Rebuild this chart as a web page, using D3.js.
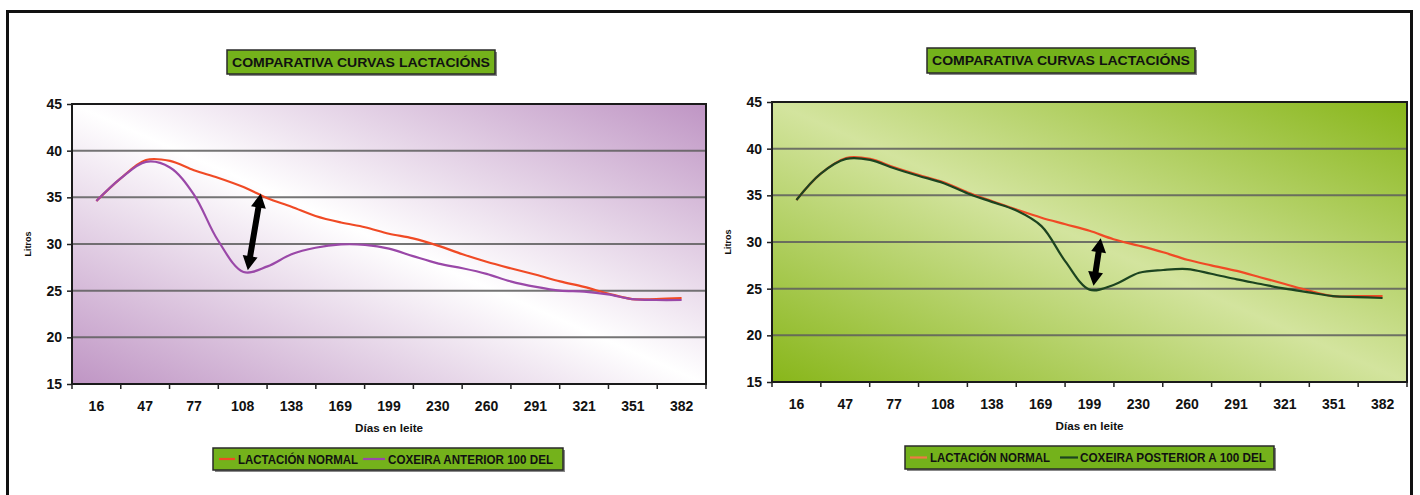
<!DOCTYPE html>
<html>
<head>
<meta charset="utf-8">
<script src="https://cdn.jsdelivr.net/npm/d3@7"></script>
<style>
  body{margin:0;background:#fff;}
  text{font-family:"Liberation Sans",Arial,sans-serif;font-weight:bold;fill:#111;}
</style>
</head>
<body>
<div id="chart"></div>
<script>
// categories shown on the axis (days in milk)
const tickDays = [16,47,77,108,138,169,199,230,260,291,321,351,382];
// sample days (every ~half month)
const days = [16,31,47,62,77,92,108,123,138,153,169,184,199,214,230,245,260,275,291,306,321,336,351,366,382];
const yTicks = [15,20,25,30,35,40,45];

const leftNormal   = [34.6,37.0,39.0,38.9,37.9,37.1,36.1,34.9,34.0,33.0,32.3,31.8,31.1,30.6,29.8,28.9,28.1,27.4,26.7,26.0,25.4,24.7,24.1,24.1,24.2];
const leftAnterior = [34.6,37.0,38.8,38.2,35.3,30.4,27.0,27.6,28.9,29.6,29.95,29.9,29.5,28.7,27.9,27.4,26.8,26.0,25.4,25.0,24.9,24.6,24.1,24.0,24.0];
const rightNormal    = [34.5,37.3,39.0,38.9,38.0,37.2,36.4,35.3,34.4,33.5,32.6,31.9,31.2,30.3,29.6,28.9,28.1,27.5,26.9,26.2,25.5,24.8,24.2,24.2,24.2];
const rightPosterior = [34.5,37.3,38.9,38.8,37.9,37.1,36.3,35.2,34.3,33.4,31.7,27.9,24.9,25.4,26.7,27.0,27.1,26.6,26.0,25.5,25.0,24.6,24.2,24.1,24.0];

// arrow annotations [day, litres] bottom -> top
const leftArrow  = [[110.7,27.2],[118.8,35.4]];
const rightArrow = [[201.5,25.3],[206.0,30.4]];

const titleText = "COMPARATIVA CURVAS LACTACIÓNS";

const svg = d3.select("#chart").append("svg")
              .attr("width",1420)
              .attr("height",495);

svg.append("rect").attr("width",1420).attr("height",495).attr("fill","#fff");

let defs = svg.append("defs");

function gradient(id, edge, mid){
  let g = defs.append("linearGradient").attr("id",id)
              .attr("x1",0).attr("y1",1).attr("x2",1).attr("y2",0);
  g.append("stop").attr("offset","0%").attr("stop-color",edge);
  g.append("stop").attr("offset","50%").attr("stop-color",mid);
  g.append("stop").attr("offset","100%").attr("stop-color",edge);
}
gradient("gPurple","#bf95c4","#ffffff");
gradient("gGreen","#88b61a","#d3e49e");

// outer frame
svg.append("rect")
   .attr("x",7.5).attr("y",11.5)
   .attr("width",1404).attr("height",520)
   .attr("fill","none").attr("stroke","#111").attr("stroke-width",3);

function greenBox(x,y,w,h){
  svg.append("rect").attr("x",x+2).attr("y",y+2).attr("width",w).attr("height",h)
     .attr("fill","#555").attr("opacity",0.7);
  svg.append("rect").attr("x",x).attr("y",y).attr("width",w).attr("height",h)
     .attr("fill","#74b21b").attr("stroke","#2a2a2a").attr("stroke-width",1.5);
}

function drawPanel(p){
  let x = d3.scaleBand().domain(tickDays).range([p.x0,p.x1]);
  let xd = d3.scaleLinear()
             .domain([tickDays[0],tickDays[tickDays.length-1]])
             .range([x(tickDays[0])+x.bandwidth()/2, x(tickDays[tickDays.length-1])+x.bandwidth()/2]);
  let y = d3.scaleLinear().domain([15,45]).range([p.y1,p.y0]);

  // title
  greenBox(p.title[0],p.title[1],p.title[2],p.title[3]);
  svg.append("text")
     .attr("x",p.title[0]+p.title[2]/2).attr("y",p.title[1]+16.5)
     .attr("text-anchor","middle")
     .style("font-size","12.5px")
     .attr("textLength",p.title[2]-10).attr("lengthAdjust","spacingAndGlyphs")
     .text(titleText);

  // plot background
  svg.append("rect")
     .attr("x",p.x0).attr("y",p.y0)
     .attr("width",p.x1-p.x0).attr("height",p.y1-p.y0)
     .attr("fill","url(#"+p.grad+")");

  // gridlines
  svg.append("g").selectAll("line").data(yTicks.slice(1,-1)).enter().append("line")
     .attr("x1",p.x0).attr("x2",p.x1)
     .attr("y1",d=>y(d)).attr("y2",d=>y(d))
     .attr("stroke","#5e5e5e").attr("stroke-width",2).attr("opacity",0.85);

  svg.append("rect")
     .attr("x",p.x0).attr("y",p.y0)
     .attr("width",p.x1-p.x0).attr("height",p.y1-p.y0)
     .attr("fill","none").attr("stroke","#1a1a1a").attr("stroke-width",2);

  // y axis
  let ya = svg.append("g").attr("transform","translate("+p.x0+",0)")
              .call(d3.axisLeft(y).tickValues(yTicks).tickSize(5).tickPadding(5));
  ya.select(".domain").remove();
  ya.selectAll("line").attr("stroke","#222").attr("stroke-width",1.5);
  ya.selectAll("text").style("font-size","14px").attr("fill","#111")
    .style("font-family","'Liberation Sans',Arial,sans-serif").style("font-weight","bold");

  // x axis: labels at band centres, ticks at band edges
  let xa = svg.append("g").attr("transform","translate(0,"+p.y1+")")
              .call(d3.axisBottom(x).tickSize(0).tickPadding(17));
  xa.select(".domain").remove();
  xa.selectAll("text").style("font-size","14px").attr("fill","#111")
    .style("font-family","'Liberation Sans',Arial,sans-serif").style("font-weight","bold");
  let edges = tickDays.map(d=>x(d)).concat([p.x1]);
  svg.append("g").selectAll("line").data(edges).enter().append("line")
     .attr("x1",d=>d).attr("x2",d=>d)
     .attr("y1",p.y1).attr("y2",p.y1+5)
     .attr("stroke","#222").attr("stroke-width",1.5);

  // axis titles
  svg.append("text")
     .attr("x",(p.x0+p.x1)/2).attr("y",p.y1+48)
     .attr("text-anchor","middle")
     .style("font-size","10.5px")
     .attr("textLength",68).attr("lengthAdjust","spacingAndGlyphs")
     .text("Días en leite");
  svg.append("text")
     .attr("transform","translate("+(p.x0-41)+","+((p.y0+p.y1)/2)+") rotate(-90)")
     .attr("text-anchor","middle")
     .style("font-size","9px")
     .text("Litros");

  // lines
  let line = d3.line()
               .x((d,i)=>xd(days[i]))
               .y(d=>y(d))
               .curve(d3.curveCatmullRom.alpha(0.5));
  p.series.forEach(s=>{
    svg.append("path")
       .datum(s.values)
       .attr("d",line)
       .attr("fill","none")
       .attr("stroke",s.color)
       .attr("stroke-width",2.2);
  });

  // double headed arrow
  let a = [xd(p.arrow[0][0]),y(p.arrow[0][1])];
  let b = [xd(p.arrow[1][0]),y(p.arrow[1][1])];
  let len = Math.hypot(b[0]-a[0],b[1]-a[1]);
  let u = [(b[0]-a[0])/len,(b[1]-a[1])/len], n = [-u[1],u[0]];
  let hl = 14, hw = 7.5, sw = 3;
  let pt = (o,k,m)=>[o[0]+u[0]*k+n[0]*m, o[1]+u[1]*k+n[1]*m];
  let poly = [b, pt(b,-hl,hw), pt(b,-hl,sw), pt(a,hl,sw), pt(a,hl,hw), a,
              pt(a,hl,-hw), pt(a,hl,-sw), pt(b,-hl,-sw), pt(b,-hl,-hw)];
  svg.append("path")
     .attr("d",d3.line()(poly)+"Z")
     .attr("fill","#000");

  // legend
  let L = p.legend;
  greenBox(L.x,L.y,L.w,L.h);
  L.items.forEach(it=>{
    svg.append("line")
       .attr("x1",it.sx).attr("x2",it.sx+it.sw)
       .attr("y1",L.y+L.h/2).attr("y2",L.y+L.h/2)
       .attr("stroke",it.color).attr("stroke-width",2.2);
    svg.append("text")
       .attr("x",it.tx).attr("y",L.y+L.h/2+4.5)
       .style("font-size","12.5px")
       .attr("textLength",it.tw).attr("lengthAdjust","spacingAndGlyphs")
       .text(it.label);
  });
}

drawPanel({
  x0:72, x1:706, y0:104, y1:384,
  grad:"gPurple",
  title:[227,50,268,24],
  series:[{values:leftNormal,color:"#f04a25"},{values:leftAnterior,color:"#9a48a8"}],
  arrow:leftArrow,
  legend:{x:213,y:448,w:350,h:22,items:[
    {sx:219,sw:16,color:"#f04a25",tx:238,tw:120,label:"LACTACIÓN NORMAL"},
    {sx:363,sw:22,color:"#9a48a8",tx:388,tw:165,label:"COXEIRA ANTERIOR 100 DEL"}]}
});

drawPanel({
  x0:772, x1:1407, y0:102, y1:382,
  grad:"gGreen",
  title:[927,48,268,25],
  series:[{values:rightNormal,color:"#f04a25"},{values:rightPosterior,color:"#1c4420"}],
  arrow:rightArrow,
  legend:{x:905,y:446,w:369,h:23,items:[
    {sx:910,sw:17,color:"#f07a45",tx:930,tw:120,label:"LACTACIÓN NORMAL"},
    {sx:1060,sw:18,color:"#1c4420",tx:1080,tw:186,label:"COXEIRA POSTERIOR A 100 DEL"}]}
});
</script>
</body>
</html>
